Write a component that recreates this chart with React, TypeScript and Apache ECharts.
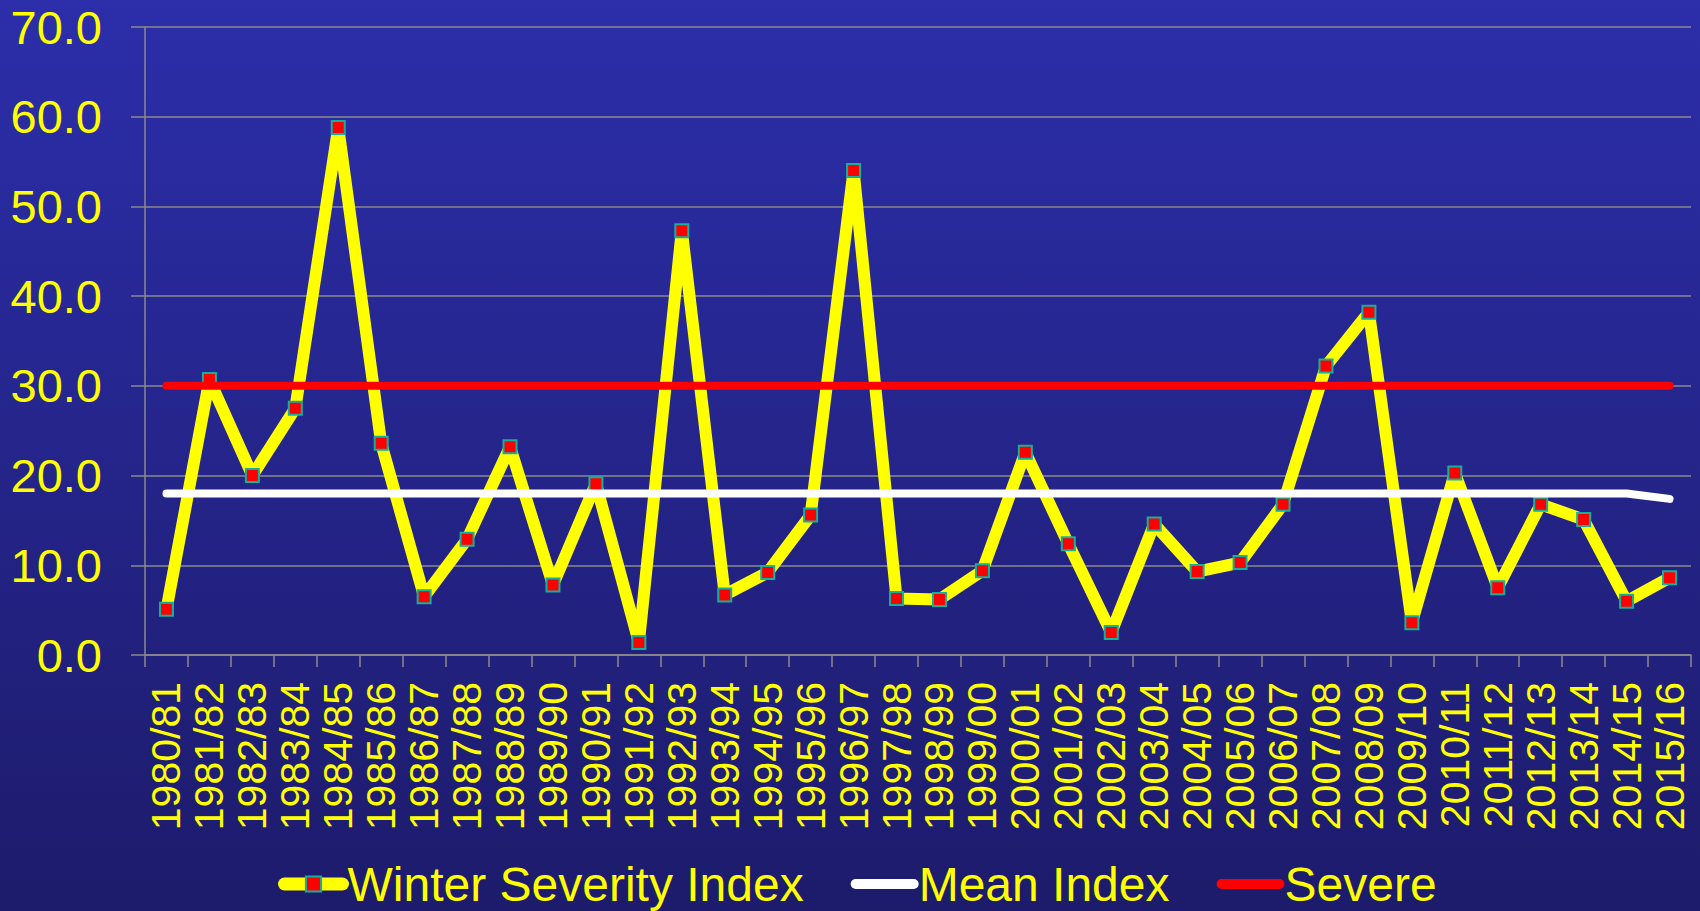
import React, { useEffect, useRef } from "react";
import * as echarts from "echarts";

const seasons = [
  "1980/81", "1981/82", "1982/83", "1983/84", "1984/85", "1985/86", "1986/87", "1987/88",
  "1988/89", "1989/90", "1990/91", "1991/92", "1992/93", "1993/94", "1994/95", "1995/96",
  "1996/97", "1997/98", "1998/99", "1999/00", "2000/01", "2001/02", "2002/03", "2003/04",
  "2004/05", "2005/06", "2006/07", "2007/08", "2008/09", "2009/10", "2010/11", "2011/12",
  "2012/13", "2013/14", "2014/15", "2015/16",
];

const winterSeverityIndex = [
  5.1, 30.7, 20.0, 27.5, 58.8, 23.6, 6.5, 12.9,
  23.2, 7.8, 19.1, 1.4, 47.3, 6.7, 9.2, 15.6,
  54.0, 6.3, 6.2, 9.4, 22.6, 12.4, 2.5, 14.6,
  9.3, 10.3, 16.8, 32.2, 38.2, 3.6, 20.3, 7.5,
  16.8, 15.1, 6.0, 8.6,
];

const meanIndex = [
  18.0, 18.0, 18.0, 18.0, 18.0, 18.0, 18.0, 18.0,
  18.0, 18.0, 18.0, 18.0, 18.0, 18.0, 18.0, 18.0,
  18.0, 18.0, 18.0, 18.0, 18.0, 18.0, 18.0, 18.0,
  18.0, 18.0, 18.0, 18.0, 18.0, 18.0, 18.0, 18.0,
  18.0, 18.0, 18.0, 17.4,
];

const severe = [
  30, 30, 30, 30, 30, 30, 30, 30,
  30, 30, 30, 30, 30, 30, 30, 30,
  30, 30, 30, 30, 30, 30, 30, 30,
  30, 30, 30, 30, 30, 30, 30, 30,
  30, 30, 30, 30,
];

const seriesNames = ["Winter Severity Index", "Mean Index", "Severe"];

const FONT = "'Liberation Sans', Arial, sans-serif";
const YELLOW = "#FFFF00";
const GRID_GRAY = "#8A8A8A";

export default function App() {
  const ref = useRef<HTMLDivElement>(null);

  useEffect(() => {
    if (!ref.current) return;
    const chart = echarts.init(ref.current, null, { renderer: "svg" });
    chart.setOption({
      animation: false,
      backgroundColor: new echarts.graphic.LinearGradient(0, 0, 0, 1, [
        { offset: 0, color: "#2C2EAA" },
        { offset: 1, color: "#1D1B6B" },
      ]),
      grid: { left: 145, right: 9, top: 27, bottom: 256, containLabel: false },
      legend: {
        left: 273,
        top: 854,
        itemWidth: 58,
        itemHeight: 19,
        itemGap: 47,
        textStyle: { color: YELLOW, fontSize: 48, fontFamily: FONT, lineHeight: 50 },
        data: [
          { name: seriesNames[0], lineStyle: { width: 13, cap: "round" } },
          { name: seriesNames[1], lineStyle: { width: 10, cap: "round" }, itemStyle: { opacity: 0 } },
          { name: seriesNames[2], lineStyle: { width: 10, cap: "round" }, itemStyle: { opacity: 0 } },
        ],
      },
      xAxis: {
        type: "category",
        data: seasons,
        boundaryGap: true,
        axisLine: { show: true, lineStyle: { color: GRID_GRAY, width: 1.5 } },
        axisTick: { show: true, length: 12, lineStyle: { color: GRID_GRAY, width: 1.5 } },
        axisLabel: {
          interval: 0,
          rotate: 90,
          margin: 27,
          color: YELLOW,
          fontSize: 41,
          fontFamily: FONT,
        },
        splitLine: { show: false },
      },
      yAxis: {
        type: "value",
        min: 0,
        max: 70,
        interval: 10,
        axisLine: { show: true, lineStyle: { color: GRID_GRAY, width: 1.5 } },
        axisTick: { show: true, length: 14, lineStyle: { color: GRID_GRAY, width: 1.5 } },
        axisLabel: {
          margin: 43,
          color: YELLOW,
          fontSize: 47,
          fontFamily: FONT,
          formatter: (v: number) => v.toFixed(1),
        },
        splitLine: { show: true, lineStyle: { color: GRID_GRAY, width: 1.5 } },
      },
      series: [
        {
          name: seriesNames[0],
          type: "line",
          data: winterSeverityIndex,
          z: 2,
          symbol: "rect",
          symbolSize: 13,
          showAllSymbol: true,
          lineStyle: { color: YELLOW, width: 12, join: "round", cap: "round" },
          itemStyle: { color: "#FF0000", borderColor: "#14B09C", borderWidth: 2 },
        },
        {
          name: seriesNames[1],
          type: "line",
          data: meanIndex,
          z: 3,
          symbol: "none",
          lineStyle: { color: "#FFFFFF", width: 8, cap: "round", join: "round" },
          itemStyle: { color: "#FFFFFF" },
        },
        {
          name: seriesNames[2],
          type: "line",
          data: severe,
          z: 4,
          symbol: "none",
          lineStyle: { color: "#FF0000", width: 8, cap: "round", join: "round" },
          itemStyle: { color: "#FF0000" },
        },
      ],
    });
    return () => chart.dispose();
  }, []);

  return (
    <div
      ref={ref}
      style={{ position: "absolute", left: 0, top: 0, width: 1700, height: 911 }}
    />
  );
}
